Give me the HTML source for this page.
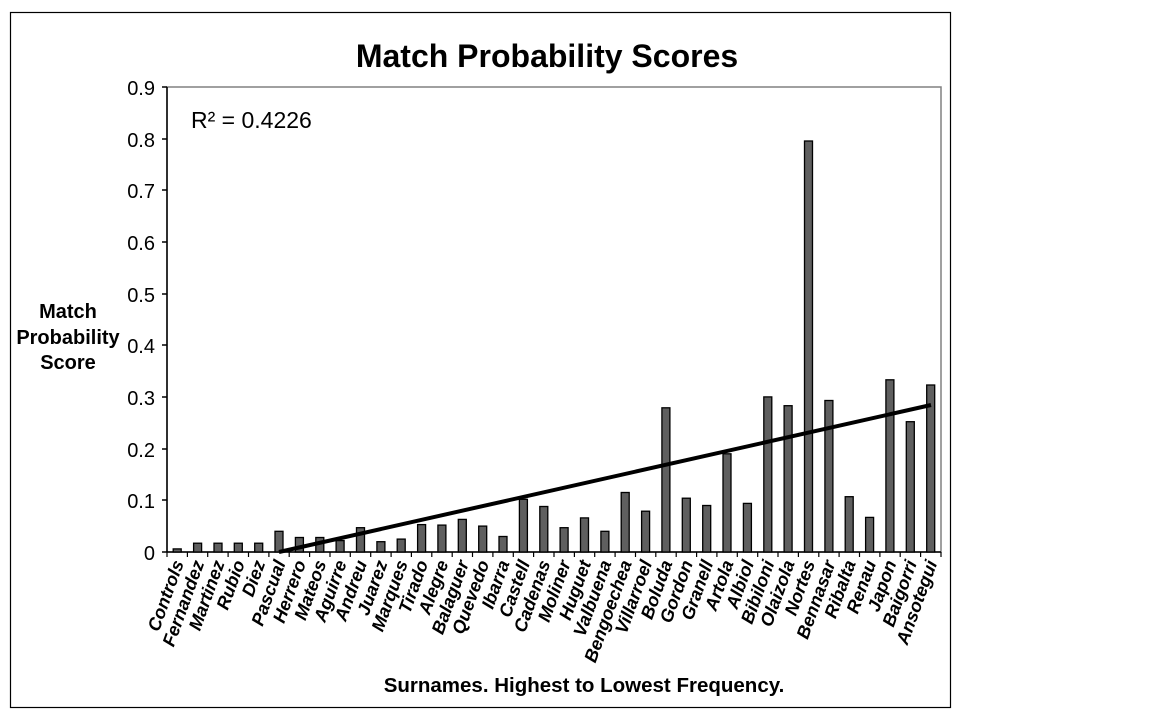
<!DOCTYPE html>
<html><head><meta charset="utf-8"><style>body{margin:0;background:#fff}svg{display:block}</style></head><body>
<svg width="1152" height="720" viewBox="0 0 1152 720" xmlns="http://www.w3.org/2000/svg" font-family="Liberation Sans, Arial, sans-serif">
<rect x="10.5" y="12.5" width="940" height="695" fill="#fff" stroke="#000" stroke-width="1.2"/>
<text x="547" y="67" text-anchor="middle" font-size="32" font-weight="bold">Match Probability Scores</text>
<rect x="167" y="87" width="774" height="465" fill="none" stroke="#808080" stroke-width="1.5"/>
<g font-size="20" text-anchor="end">
<text x="155" y="95">0.9</text><text x="155" y="147">0.8</text><text x="155" y="198">0.7</text><text x="155" y="250">0.6</text><text x="155" y="302">0.5</text><text x="155" y="353">0.4</text><text x="155" y="405">0.3</text><text x="155" y="457">0.2</text><text x="155" y="508">0.1</text><text x="155" y="560">0</text>
</g>
<g stroke="#000" stroke-width="1.5">
<line x1="167" y1="87" x2="167" y2="552"/>
<line x1="162" y1="87" x2="167" y2="87"/><line x1="162" y1="139" x2="167" y2="139"/><line x1="162" y1="190" x2="167" y2="190"/><line x1="162" y1="242" x2="167" y2="242"/><line x1="162" y1="294" x2="167" y2="294"/><line x1="162" y1="345" x2="167" y2="345"/><line x1="162" y1="397" x2="167" y2="397"/><line x1="162" y1="449" x2="167" y2="449"/><line x1="162" y1="500" x2="167" y2="500"/>
<line x1="162" y1="552" x2="941" y2="552"/>
</g>
<g stroke="#000" stroke-width="1.2">
<line x1="167" y1="552" x2="167" y2="557"/><line x1="187.4" y1="552" x2="187.4" y2="557"/><line x1="207.7" y1="552" x2="207.7" y2="557"/><line x1="228.1" y1="552" x2="228.1" y2="557"/><line x1="248.5" y1="552" x2="248.5" y2="557"/><line x1="268.9" y1="552" x2="268.9" y2="557"/><line x1="289.2" y1="552" x2="289.2" y2="557"/><line x1="309.6" y1="552" x2="309.6" y2="557"/><line x1="330" y1="552" x2="330" y2="557"/><line x1="350.3" y1="552" x2="350.3" y2="557"/><line x1="370.7" y1="552" x2="370.7" y2="557"/><line x1="391.1" y1="552" x2="391.1" y2="557"/><line x1="411.4" y1="552" x2="411.4" y2="557"/><line x1="431.8" y1="552" x2="431.8" y2="557"/><line x1="452.2" y1="552" x2="452.2" y2="557"/><line x1="472.5" y1="552" x2="472.5" y2="557"/><line x1="492.9" y1="552" x2="492.9" y2="557"/><line x1="513.3" y1="552" x2="513.3" y2="557"/><line x1="533.6" y1="552" x2="533.6" y2="557"/><line x1="554" y1="552" x2="554" y2="557"/><line x1="574.4" y1="552" x2="574.4" y2="557"/><line x1="594.7" y1="552" x2="594.7" y2="557"/><line x1="615.1" y1="552" x2="615.1" y2="557"/><line x1="635.5" y1="552" x2="635.5" y2="557"/><line x1="655.8" y1="552" x2="655.8" y2="557"/><line x1="676.2" y1="552" x2="676.2" y2="557"/><line x1="696.6" y1="552" x2="696.6" y2="557"/><line x1="716.9" y1="552" x2="716.9" y2="557"/><line x1="737.3" y1="552" x2="737.3" y2="557"/><line x1="757.7" y1="552" x2="757.7" y2="557"/><line x1="778" y1="552" x2="778" y2="557"/><line x1="798.4" y1="552" x2="798.4" y2="557"/><line x1="818.8" y1="552" x2="818.8" y2="557"/><line x1="839.1" y1="552" x2="839.1" y2="557"/><line x1="859.5" y1="552" x2="859.5" y2="557"/><line x1="879.9" y1="552" x2="879.9" y2="557"/><line x1="900.2" y1="552" x2="900.2" y2="557"/><line x1="920.6" y1="552" x2="920.6" y2="557"/><line x1="941" y1="552" x2="941" y2="557"/>
</g>
<g fill="#5f5f5f" stroke="#000" stroke-width="1.3">
<rect x="173.2" y="548.9" width="8" height="3.1"/>
<rect x="193.6" y="543.2" width="8" height="8.8"/>
<rect x="214" y="543.2" width="8" height="8.8"/>
<rect x="234.3" y="543.2" width="8" height="8.8"/>
<rect x="254.7" y="543.2" width="8" height="8.8"/>
<rect x="275" y="531.3" width="8" height="20.7"/>
<rect x="295.4" y="537.5" width="8" height="14.5"/>
<rect x="315.8" y="537.5" width="8" height="14.5"/>
<rect x="336.1" y="540.6" width="8" height="11.4"/>
<rect x="356.5" y="527.7" width="8" height="24.3"/>
<rect x="376.9" y="541.7" width="8" height="10.3"/>
<rect x="397.2" y="539.1" width="8" height="12.9"/>
<rect x="417.6" y="524.6" width="8" height="27.4"/>
<rect x="437.9" y="525.1" width="8" height="26.9"/>
<rect x="458.3" y="519.4" width="8" height="32.6"/>
<rect x="478.7" y="526.1" width="8" height="25.9"/>
<rect x="499" y="536.5" width="8" height="15.5"/>
<rect x="519.4" y="499.3" width="8" height="52.7"/>
<rect x="539.8" y="506.5" width="8" height="45.5"/>
<rect x="560.1" y="527.7" width="8" height="24.3"/>
<rect x="580.5" y="517.9" width="8" height="34.1"/>
<rect x="600.9" y="531.3" width="8" height="20.7"/>
<rect x="621.2" y="492.5" width="8" height="59.5"/>
<rect x="641.6" y="511.2" width="8" height="40.8"/>
<rect x="661.9" y="407.8" width="8" height="144.2"/>
<rect x="682.3" y="498.2" width="8" height="53.8"/>
<rect x="702.7" y="505.5" width="8" height="46.5"/>
<rect x="723" y="453.8" width="8" height="98.2"/>
<rect x="743.4" y="503.4" width="8" height="48.6"/>
<rect x="763.8" y="396.9" width="8" height="155.1"/>
<rect x="784.1" y="405.7" width="8" height="146.3"/>
<rect x="804.5" y="141" width="8" height="411"/>
<rect x="824.9" y="400.5" width="8" height="151.5"/>
<rect x="845.2" y="496.7" width="8" height="55.3"/>
<rect x="865.6" y="517.4" width="8" height="34.6"/>
<rect x="885.9" y="379.8" width="8" height="172.2"/>
<rect x="906.3" y="421.7" width="8" height="130.3"/>
<rect x="926.7" y="385" width="8" height="167"/>
</g>
<line x1="279" y1="552" x2="931" y2="405" stroke="#000" stroke-width="4"/>
<text x="191" y="128" font-size="23">R² = 0.4226</text>
<g font-size="20" font-weight="bold" text-anchor="middle"><text x="68" y="318">Match</text><text x="68" y="344">Probability</text><text x="68" y="369">Score</text></g>
<g font-size="18" font-weight="bold" font-style="italic" text-anchor="end">
<text transform="translate(184,563) rotate(-70)">Controls</text>
<text transform="translate(204.4,563) rotate(-70)">Fernandez</text>
<text transform="translate(224.8,563) rotate(-70)">Martinez</text>
<text transform="translate(245.1,563) rotate(-70)">Rubio</text>
<text transform="translate(265.5,563) rotate(-70)">Diez</text>
<text transform="translate(285.8,563) rotate(-70)">Pascual</text>
<text transform="translate(306.2,563) rotate(-70)">Herrero</text>
<text transform="translate(326.6,563) rotate(-70)">Mateos</text>
<text transform="translate(346.9,563) rotate(-70)">Aguirre</text>
<text transform="translate(367.3,563) rotate(-70)">Andreu</text>
<text transform="translate(387.7,563) rotate(-70)">Juarez</text>
<text transform="translate(408,563) rotate(-70)">Marques</text>
<text transform="translate(428.4,563) rotate(-70)">Tirado</text>
<text transform="translate(448.7,563) rotate(-70)">Alegre</text>
<text transform="translate(469.1,563) rotate(-70)">Balaguer</text>
<text transform="translate(489.5,563) rotate(-70)">Quevedo</text>
<text transform="translate(509.8,563) rotate(-70)">Ibarra</text>
<text transform="translate(530.2,563) rotate(-70)">Castell</text>
<text transform="translate(550.6,563) rotate(-70)">Cadenas</text>
<text transform="translate(570.9,563) rotate(-70)">Moliner</text>
<text transform="translate(591.3,563) rotate(-70)">Huguet</text>
<text transform="translate(611.7,563) rotate(-70)">Valbuena</text>
<text transform="translate(632,563) rotate(-70)">Bengoechea</text>
<text transform="translate(652.4,563) rotate(-70)">Villarroel</text>
<text transform="translate(672.7,563) rotate(-70)">Boluda</text>
<text transform="translate(693.1,563) rotate(-70)">Gordon</text>
<text transform="translate(713.5,563) rotate(-70)">Granell</text>
<text transform="translate(733.8,563) rotate(-70)">Artola</text>
<text transform="translate(754.2,563) rotate(-70)">Albiol</text>
<text transform="translate(774.6,563) rotate(-70)">Bibiloni</text>
<text transform="translate(794.9,563) rotate(-70)">Olaizola</text>
<text transform="translate(815.3,563) rotate(-70)">Nortes</text>
<text transform="translate(835.7,563) rotate(-70)">Bennasar</text>
<text transform="translate(856,563) rotate(-70)">Ribalta</text>
<text transform="translate(876.4,563) rotate(-70)">Renau</text>
<text transform="translate(896.7,563) rotate(-70)">Japon</text>
<text transform="translate(917.1,563) rotate(-70)">Baigorri</text>
<text transform="translate(937.5,563) rotate(-70)">Ansotegui</text>
</g>
<text x="584" y="692" text-anchor="middle" font-size="20.5" font-weight="bold">Surnames. Highest to Lowest Frequency.</text>
</svg>
</body></html>
